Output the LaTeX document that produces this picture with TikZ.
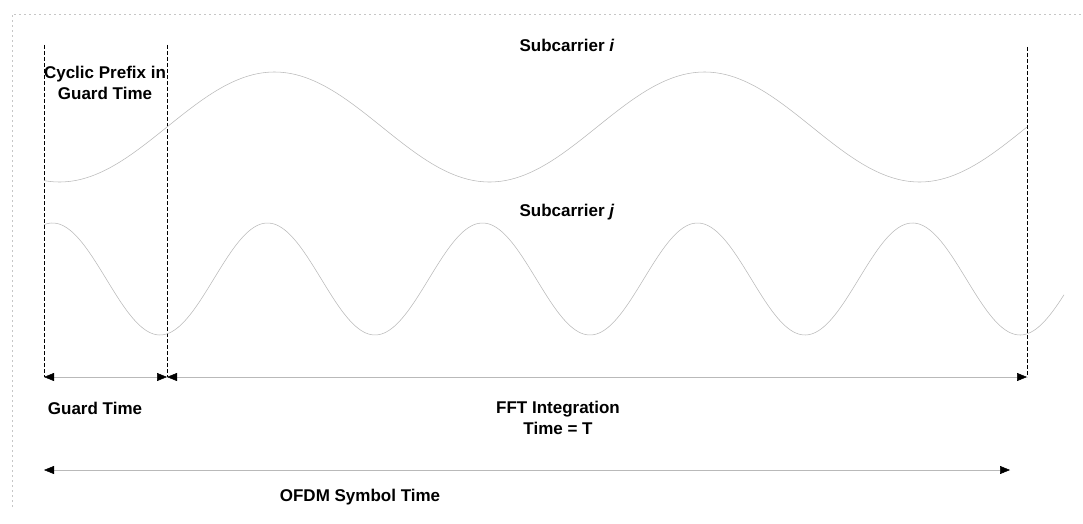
\documentclass[tikz,border=0pt]{standalone}
\usepackage{fontspec}
\setmainfont{Liberation Sans}
\usetikzlibrary{arrows.meta}
\begin{document}
\begin{tikzpicture}[x=1pt,y=-1pt,
  lbl/.style={font=\bfseries\fontsize{17}{21}\selectfont, inner sep=0pt, align=center},
  bound/.style={black, line width=1pt, dash pattern=on 4pt off 2pt},
  wave/.style={gray!55, line width=0.55pt},
  frameline/.style={gray!45, line width=0.5pt, dash pattern=on 2pt off 3pt},
  dimline/.style={gray!55, line width=0.5pt,
    {Triangle[black,length=10pt,width=8pt]}-{Triangle[black,length=10pt,width=8pt]}}]
\useasboundingbox (0,0) rectangle (1083,524);
% faint frame
\coordinate (fTL) at (12,14);
\coordinate (fTR) at (1083,14);
\coordinate (fBL) at (12,507);
\draw[frameline] (fBL) -- (fTL) -- (fTR);
% boundaries
\coordinate (a0) at (44,45);   \coordinate (a1) at (44,377);
\coordinate (b0) at (167,45);  \coordinate (b1) at (167,377);
\coordinate (c0) at (1027,47); \coordinate (c1) at (1027,377);
\draw[bound] (a0) -- (a1);
\draw[bound] (b0) -- (b1);
\draw[bound] (c0) -- (c1);
% waves
\draw[wave] plot[domain=44:1027, samples=300] (\x, {127 - 55*sin(0.837209*(\x-167))});
\draw[wave] plot[domain=44:1064, samples=400] (\x, {279 + 56*cos(1.674419*(\x-160))});
% dimension arrows
\draw[dimline] (a1) -- (b1);
\draw[dimline] (b1) -- (c1);
\coordinate (o0) at (44,470);
\coordinate (o1) at (1010,470);
\draw[dimline] (o0) -- (o1);
% labels
\node[lbl] (cp) at (105,83) {Cyclic Prefix in\\Guard Time};
\node[lbl] (si) at (567,45) {Subcarrier \textit{i}};
\node[lbl] (sj) at (567,212) {Subcarrier \textit{j}};
\node[lbl] (gt) at (95,408) {Guard Time};
\node[lbl] (fft) at (558,418) {FFT Integration\\Time = T};
\node[lbl] (ofdm) at (360,497) {OFDM Symbol Time};
\end{tikzpicture}
\end{document}
